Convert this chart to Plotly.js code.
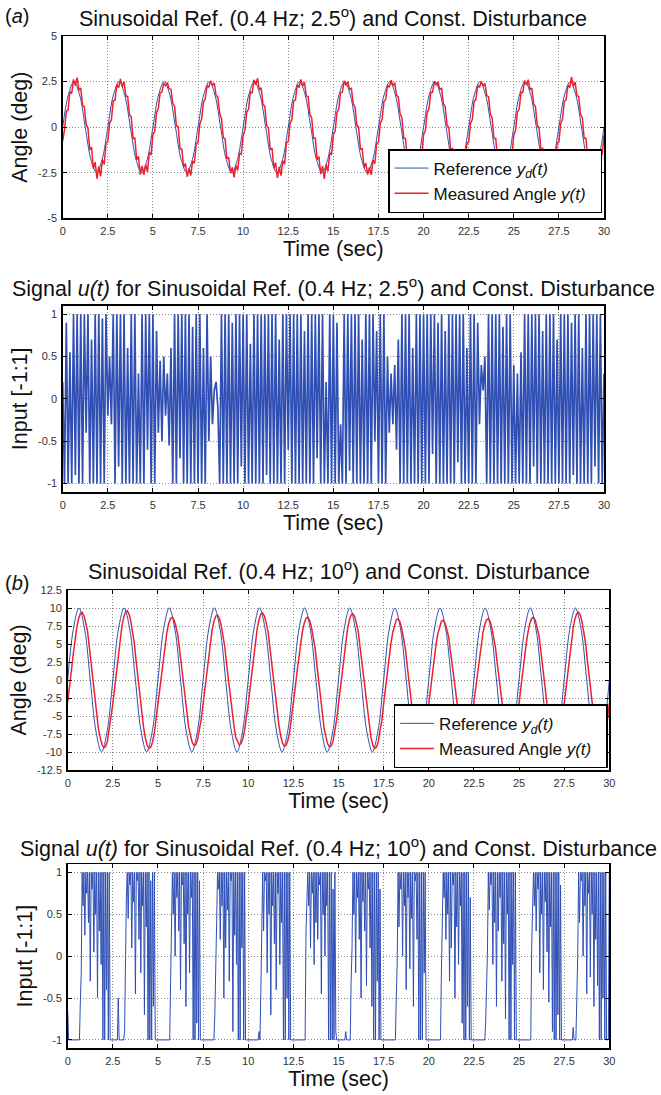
<!DOCTYPE html>
<html><head><meta charset="utf-8">
<script src="https://cdn.plot.ly/plotly-3.0.1.min.js"></script>
<style>html,body{margin:0;padding:0;background:#fff;}#chart{width:661px;height:1095px;}</style>
</head><body><div id="chart"></div>
<script>
// ---------- data ----------
const timeTicks = [0,2.5,5,7.5,10,12.5,15,17.5,20,22.5,25,27.5,30];
const timeTickText = ["0","2.5","5","7.5","10","12.5","15","17.5","20","22.5","25","27.5","30"];
const angleTicksA = [-5,-2.5,0,2.5,5];
const angleTickTextA = ["-5","-2.5","0","2.5","5"];
const inputTicks = [-1,-0.5,0,0.5,1];
const inputTickText = ["-1","-0.5","0","0.5","1"];
const angleTicksB = [-12.5,-10,-7.5,-5,-2.5,0,2.5,5,7.5,10,12.5];
const angleTickTextB = ["-12.5","-10","-7.5","-5","-2.5","0","2.5","5","7.5","10","12.5"];

// sample spacing (s) of each series
const refStep = 0.3125;
const sigStep = 0.1;
const inputStepB = 0.05;

// (a) reference y_d(t), 2.5 deg
const refA = [0,1.77,2.5,1.77,0,-1.77,-2.5,-1.77, 0,1.77,2.5,1.77,0,-1.77,-2.5,-1.77,
 0,1.77,2.5,1.77,0,-1.77,-2.5,-1.77, 0,1.77,2.5,1.77,0,-1.77,-2.5,-1.77,
 0,1.77,2.5,1.77,0,-1.77,-2.5,-1.77, 0,1.77,2.5,1.77,0,-1.77,-2.5,-1.77,
 0,1.77,2.5,1.77,0,-1.77,-2.5,-1.77, 0,1.77,2.5,1.77,0,-1.77,-2.5,-1.77,
 0,1.77,2.5,1.77,0,-1.77,-2.5,-1.77, 0,1.77,2.5,1.77,0,-1.77,-2.5,-1.77,
 0,1.77,2.5,1.77,0,-1.77,-2.5,-1.77, 0,1.77,2.5,1.77,0,-1.77,-2.5,-1.77, 0];

// (a) measured angle y(t)
const measA = [
 -0.75,-0.15,0.85,0.95,1.95,1.85,2.62,2.28,2.72,2.02,2.15,1.22,1.10,0.15,-0.05,-1.25,-1.10,-2.28,-1.92,-2.82,-2.15,-2.70,-1.78,-2.05,-0.88,
 -0.80,0.22,0.40,1.45,1.48,2.35,2.15,2.65,2.22,2.50,1.70,1.70,0.68,0.55,-0.65,-0.58,-1.80,-1.60,-2.60,-2.12,-2.62,-2.05,-2.45,-1.38,-1.52,
 -0.40,-0.22,0.80,1.02,1.88,1.93,2.40,2.25,2.45,2.10,2.08,1.30,1.15,0.08,0.02,-1.20,-1.20,-2.20,-2.00,-2.72,-2.25,-2.65,-1.85,-1.98,-0.92,
 -0.85,0.18,0.45,1.38,1.55,2.28,2.20,2.55,2.28,2.42,1.75,1.64,0.75,0.48,-0.58,-0.65,-1.75,-1.66,-2.52,-2.20,-2.76,-2.10,-2.38,-1.44,-1.48,
 -0.44,-0.18,0.84,0.98,1.93,1.88,2.60,2.32,2.68,2.04,2.16,1.25,1.14,0.10,-0.03,-1.24,-1.15,-2.25,-1.94,-2.78,-2.18,-2.66,-1.83,-2.03,-0.86,
 -0.80,0.21,0.41,1.42,1.50,2.33,2.17,2.62,2.24,2.47,1.71,1.68,0.70,0.52,-0.62,-0.60,-1.78,-1.62,-2.58,-2.14,-2.84,-2.06,-2.42,-1.40,-1.51,
 -0.41,-0.21,0.81,1.01,1.90,1.92,2.55,2.29,2.50,2.07,2.12,1.28,1.11,0.12,0.00,-1.21,-1.18,-2.22,-1.97,-2.60,-2.21,-2.62,-1.80,-2.00,-0.91,
 -0.83,0.19,0.43,1.39,1.52,2.30,2.19,2.58,2.27,2.45,1.74,1.66,0.73,0.50,-0.60,-0.63,-1.76,-1.64,-2.55,-2.17,-2.70,-2.09,-2.40,-1.42,-1.49,
 -0.42,-0.20,0.82,1.00,1.91,1.91,2.52,2.30,2.48,2.06,2.13,1.27,1.12,0.11,-0.01,-1.22,-1.17,-2.23,-1.96,-2.65,-2.20,-2.68,-1.81,-2.01,-0.90,
 -0.82,0.20,0.42,1.40,1.51,2.31,2.18,2.50,2.26,2.40,1.73,1.67,0.72,0.51,-0.61,-0.62,-1.77,-1.63,-2.56,-2.16,-2.72,-2.08,-2.41,-1.41,-1.50,
 -0.43,-0.19,0.83,0.99,1.92,1.90,2.56,2.31,2.60,2.05,2.14,1.26,1.13,0.10,-0.02,-1.23,-1.16,-2.24,-1.95,-2.70,-2.19,-2.67,-1.82,-2.02,-0.89,
 -0.81,0.21,0.43,1.41,1.50,2.32,2.17,2.75,2.25,2.47,1.72,1.68,0.71,0.52,-0.62,-0.61,-1.78,-1.62,-2.57,-2.15,-2.78,-2.07,-2.42,-1.40,-1.51,
 -0.45];

// (a) control signal u(t)
const inputA = [
 0.2,-1,0.9,-1,0.55,-1,1,-0.9,1,-1,
 1,-1,1,-0.4,1,-1,0.7,-1,1,-1,
 1,-1,0.95,-1,1,-0.2,0.5,-0.3,1,-1,
 1,-0.8,1,-1,1,-1,0.6,-1,1,-1,
 1,-1,0.3,-1,1,-1,1,-0.6,1,-1,
 1,-1,0.8,-0.4,0.45,-0.5,0.5,-0.2,0.3,-0.55,
 0.6,-1,1,-1,1,-0.7,1,-1,1,-1,
 1,-1,0.85,-1,1,-1,1,-1,0.6,-1,
 1,-0.5,0.5,-0.3,0.1,0.2,-0.1,-1,1,-1,
 1,-1,1,-1,0.9,-1,1,-1,1,-0.8,
 1,-1,1,-1,0.65,-1,1,-1,1,-1,
 1,-1,1,-0.9,1,-1,1,-1,1,-1,
 0.7,-1,1,-1,1,-0.6,1,-1,1,-1,
 1,-1,1,-1,0.8,-1,1,-1,1,-1,
 1,-0.7,1,-1,1,-1,0.2,-1,1,-1,
 1,-1,0.9,-1,-0.3,-1,1,-1,1,-0.85,
 1,-1,1,-1,1,-1,0.7,-1,1,-1,
 1,-1,1,-0.5,0.8,-1,1,-1,1,-1,
 0.5,-0.4,0.3,-0.3,0.4,-0.6,0.7,-1,1,-1,
 1,-1,1,-1,0.6,-1,1,-1,1,-1,
 1,-1,1,-1,1,-0.65,1,-1,0.9,-1,
 1,-1,0.8,-1,1,-1,1,-1,1,-0.75,
 1,-1,1,-1,0.6,-1,1,-1,1,-1,
 0.9,-0.3,0.4,0.1,0.5,-1,1,-1,1,-1,
 1,-1,1,-1,0.85,-1,1,-1,1,-1,
 0.4,-1,0.3,-1,0.55,-1,1,-1,1,-1,
 1,-0.8,1,-1,1,-1,0.8,-1,1,-1,
 1,-1,1,-1,0.7,-1,1,-1,1,-1,
 1,-1,0.9,-0.9,1,-1,1,-1,0.6,-1,
 1,-1,1,-1,1,-0.8,1,-1,1,-1,
 0.3];

// (b) reference y_d(t), 10 deg
const refB = [0,7.07,10,7.07,0,-7.07,-10,-7.07, 0,7.07,10,7.07,0,-7.07,-10,-7.07,
 0,7.07,10,7.07,0,-7.07,-10,-7.07, 0,7.07,10,7.07,0,-7.07,-10,-7.07,
 0,7.07,10,7.07,0,-7.07,-10,-7.07, 0,7.07,10,7.07,0,-7.07,-10,-7.07,
 0,7.07,10,7.07,0,-7.07,-10,-7.07, 0,7.07,10,7.07,0,-7.07,-10,-7.07,
 0,7.07,10,7.07,0,-7.07,-10,-7.07, 0,7.07,10,7.07,0,-7.07,-10,-7.07,
 0,7.07,10,7.07,0,-7.07,-10,-7.07, 0,7.07,10,7.07,0,-7.07,-10,-7.07, 0];

// (b) measured angle y(t)
const measB = [
 -3.0,-1.13,1.18,3.46,5.54,7.25,8.52,9.25,9.40,8.96,7.96,6.75,4.54,2.34,0,-2.34,-4.54,-6.75,-7.96,-8.96,-9.40,-9.25,-8.52,-6.95,-5.54,
 -3.31,-1.13,1.21,3.54,5.66,7.41,8.70,9.45,9.60,9.15,8.12,6.59,4.94,2.39,0,-2.37,-4.59,-6.52,-8.04,-9.06,-9.50,-9.35,-8.61,-7.33,-5.30,
 -3.31,-1.13,1.09,3.21,5.12,6.71,7.89,8.56,8.70,8.29,7.36,6.27,4.20,2.17,0,-2.27,-4.40,-6.54,-7.70,-8.67,-9.10,-8.96,-8.25,-7.02,-5.36,
 -3.31,-1.13,1.13,3.32,5.30,6.95,8.16,8.86,9.00,8.58,7.62,6.17,4.65,2.24,0,-2.24,-4.35,-6.17,-7.92,-8.58,-9.00,-8.86,-8.16,-6.95,-5.30,
 -3.31,-1.13,1.17,3.43,5.48,7.18,8.43,9.15,9.30,8.86,7.87,6.68,4.49,2.32,0,-2.29,-4.45,-6.31,-7.79,-8.77,-9.20,-9.06,-8.34,-7.10,-5.12,
 -3.31,-1.13,1.09,3.21,5.12,6.71,7.89,8.56,8.70,8.29,7.36,5.97,4.50,2.17,0,-2.32,-4.49,-6.68,-7.87,-8.86,-9.30,-9.15,-8.43,-7.18,-5.48,
 -3.31,-1.13,1.16,3.39,5.42,7.10,8.34,9.06,9.20,8.77,7.79,6.61,4.45,2.29,0,-2.37,-4.59,-6.52,-8.04,-9.06,-9.50,-9.35,-8.61,-7.03,-5.60,
 -3.31,-1.13,1.07,3.13,5.01,6.56,7.70,8.37,8.50,8.10,7.19,5.83,4.41,2.12,0,-2.29,-4.45,-6.61,-7.79,-8.77,-9.20,-9.06,-8.34,-7.10,-5.42,
 -3.31,-1.13,1.04,3.06,4.89,6.41,7.52,8.17,8.30,7.91,7.02,5.99,4.01,2.07,0,-2.24,-4.35,-6.17,-7.62,-8.58,-9.00,-8.86,-8.16,-6.95,-5.00,
 -3.31,-1.13,1.07,3.13,5.01,6.56,7.70,8.37,8.50,8.10,7.19,5.83,4.41,2.12,0,-2.32,-4.49,-6.38,-7.87,-8.86,-9.30,-9.15,-8.43,-7.18,-5.48,
 -3.31,-1.13,1.09,3.21,5.12,6.71,7.89,8.56,8.70,8.29,7.36,6.27,4.20,2.17,0,-2.27,-4.40,-6.54,-7.70,-8.67,-9.10,-8.96,-8.25,-7.02,-5.36,
 -3.31,-1.13,1.18,3.46,5.54,7.25,8.52,9.25,9.40,8.96,7.96,6.45,4.84,2.34,0,-2.32,-4.49,-6.38,-7.87,-8.86,-9.30,-9.15,-8.43,-7.18,-5.48,
 -3.31];

// (b) control signal u(t), sampled every 0.05 s
const inputB = [
 -0.65,-1,-1,-1,-1,-1,-1,-1,-1,-1,-1,-1,-1,-1,-0.55,-0.2,1,0.6,1,0.25,1,0.75,1,0.4,1,
 -0.3,1,0.8,1,0.05,1,0.5,1,-0.5,1,0.3,1,-0.1,1,-1,1,-1,1,-0.4,1,-1,1,-1,-1,-1,
 -1,-1,-1,-1,-1,-1,-0.5,-1,-1,-1,-1,-1,-1,-0.9,0.1,0.7,1,0.45,1,0.85,1,0.1,1,0.65,1,
 -0.45,1,0.9,1,0.2,1,-0.2,1,0.6,1,-0.7,1,0.35,1,-1,1,-1,0.9,-1,1,-0.6,1,-1,-1,-1,
 -1,-1,-1,-1,-1,-1,-1,-1,-1,-1,-1,-1,-1,-1,-0.3,0.2,1,0.5,1,0,1,0.7,1,0.3,1,
 -0.4,1,0.85,1,0.15,1,-0.6,1,0.5,1,-0.2,1,0.7,1,-1,1,-1,1,-0.8,1,-1,0.9,-1,-1,-1,
 -1,-1,-1,-1,-1,-1,-1,-1,-1,-1,-1,-1,-1,-0.7,-0.3,0.4,1,0.8,1,0.2,1,0.6,1,-0.5,1,
 0.1,1,0.55,1,-0.3,1,0.9,1,-0.9,1,0.25,1,-0.1,1,-1,1,-1,1,0.1,1,-1,1,-1,-1,-1,
 -1,-1,-1,-1,-1,-1,-1,-1,-1,-1,-1,-1,-0.9,-1,-0.4,0.3,1,0.3,1,0.9,1,-0.2,1,0.5,1,
 -0.7,1,0.6,1,0.15,1,-0.4,1,0.75,1,-0.1,1,0.4,1,-1,1,-1,1,-0.5,1,-1,1,-1,-1,-1,
 -1,-1,-1,-1,-1,-1,-1,-1,-1,-1,-1,-1,-1,-1,0.3,0.6,1,0.6,1,0.1,1,0.75,1,-0.1,1,
 0.4,1,0.2,1,0.85,1,-0.45,1,0.5,1,0,1,0.6,1,-1,1,-1,1,-1,0.8,-1,1,-0.9,-1,-1,
 -1,-1,-1,-1,-1,-1,-1,-1,-0.9,-1,-1,-1,-1,-1,-0.3,0.1,1,0.5,1,-0.2,1,0.7,1,0.2,1,
 -0.5,1,0.65,1,0.3,1,-0.35,1,0.8,1,0.1,1,-0.6,1,-1,1,-1,1,-0.3,1,-1,0.8,-1,-1,-1,
 -1,-1,-1,-1,-1,-1,-1,-1,-1,-1,-1,-1,-1,-1,-0.5,-0.1,1,0.35,1,0.8,1,0,1,0.6,1,
 -0.4,1,0.7,1,-0.15,1,0.45,1,-0.6,1,0.9,1,0.2,1,-1,1,-1,1,-1,1,-0.2,1,-1,-1,-1,
 -1,-1,-1,-1,-1,-1,-1,-1,-1,-1,-1,-1,-1,-1,-0.2,0.3,1,0.7,1,0.2,1,0.5,1,-0.3,1,
 0.1,1,0.85,1,-0.5,1,0.35,1,-0.1,1,0.6,1,-0.8,1,-1,1,-1,1,-0.6,1,-1,0.7,-1,-1,-1,
 -1,-1,-1,-1,-1,-1,-1,-1,-1,-1,-1,-1,-1,-0.8,-0.45,0.05,1,0.55,1,0.85,1,-0.1,1,0.4,1,
 -0.6,1,0.3,1,0.7,1,-0.3,1,0.15,1,-0.75,1,0.5,1,-1,1,-1,1,-0.1,1,-1,1,-1,-1,-1,
 -1,-1,-1,-1,-1,-1,-1,-1,-1,-1,-1,-1,-1,-1,0.1,0.5,1,0.6,1,0.3,1,0.8,1,-0.2,1,
 0.5,1,-0.4,1,0.65,1,0.05,1,-0.55,1,0.35,1,-0.9,1,-1,1,-1,1,-0.7,1,-1,0.85,-1,-1,-1,
 -1,-1,-1,-1,-1,-1,-1,-1,-1,-1,-0.85,-1,-1,-1,-0.5,0,1,0.4,1,0.9,1,0,1,0.6,1,
 -0.45,1,0.75,1,-0.25,1,0.5,1,-0.6,1,0.2,1,-0.35,1,-1,1,-1,1,-0.5,1,-1,1,-1,-1,-1,
 1];

// ---------- styling ----------
const BLUE = '#2f4fb5';
const RED = '#f0202a';
const FONT = 'Liberation Sans, Arial, Helvetica, sans-serif';
const GRID = {showgrid:true, gridcolor:'#8c8c8c', griddash:'1px,2px', gridwidth:1, zeroline:false};

function xAx(domain, anchor){
  return Object.assign({domain:domain, anchor:anchor, range:[0,30], tickmode:'array', tickvals:timeTicks, ticktext:timeTickText,
    ticks:'inside', ticklen:4, tickwidth:1, tickcolor:'#000', showline:true, linecolor:'#000', linewidth:1.5,
    mirror:'ticks', tickfont:{size:11, color:'#333'}, ticklabelstandoff:2, automargin:false, fixedrange:true,
    title:{text:'Time (sec)', font:{size:21.5, color:'#111'}, standoff:2}}, GRID);
}
function yAx(domain, anchor, range, vals, text, title){
  return Object.assign({domain:domain, anchor:anchor, range:range, tickmode:'array', tickvals:vals, ticktext:text,
    ticks:'inside', ticklen:4, tickwidth:1, tickcolor:'#000', showline:true, linecolor:'#000', linewidth:1.5,
    mirror:'ticks', tickfont:{size:11, color:'#333'}, ticklabelstandoff:2, automargin:false, fixedrange:true,
    title:{text:title, font:{size:21.5, color:'#111'}, standoff:4}}, GRID);
}

const W = 661, H = 1095;
const xdA = [62.7/W, 604/W], xdB = [67.7/W, 609.3/W];
const nameRef = 'Reference <i>y</i><sub><i>d</i></sub><i>(t)</i>&nbsp;&nbsp;';
const nameMeas = 'Measured Angle <i>y(t)</i>&nbsp;&nbsp;';

const traces = [
  {type:'scatter', mode:'lines', x0:0, dx:refStep, y:refA, xaxis:'x', yaxis:'y',
   line:{color:BLUE, width:1, shape:'spline'}, name:nameRef, legend:'legend', legendgroup:'a1'},
  {type:'scatter', mode:'lines', x0:0, dx:sigStep, y:measA, xaxis:'x', yaxis:'y',
   line:{color:RED, width:1.5}, name:nameMeas, legend:'legend', legendgroup:'a2'},
  {type:'scatter', mode:'lines', x0:0, dx:sigStep, y:inputA, xaxis:'x2', yaxis:'y2',
   line:{color:BLUE, width:1.7}, showlegend:false},
  {type:'scatter', mode:'lines', x0:0, dx:refStep, y:refB, xaxis:'x3', yaxis:'y3',
   line:{color:BLUE, width:1, shape:'spline'}, name:nameRef, legend:'legend2', legendgroup:'b1'},
  {type:'scatter', mode:'lines', x0:0, dx:sigStep, y:measB, xaxis:'x3', yaxis:'y3',
   line:{color:RED, width:1.5}, name:nameMeas, legend:'legend2', legendgroup:'b2'},
  {type:'scatter', mode:'lines', x0:0, dx:inputStepB, y:inputB, xaxis:'x4', yaxis:'y4',
   line:{color:BLUE, width:1}, showlegend:false}
];

function ann(text, xpx, ypx, size){
  return {text:text, xref:'paper', yref:'paper', x:xpx/W, y:1-ypx/H, xanchor:'center', yanchor:'middle',
    showarrow:false, font:{size:size, color:'#111', family:FONT}};
}

const legendStyle = {bgcolor:'#fff', bordercolor:'#000', borderwidth:1.5, font:{size:17, color:'#111'},
  xanchor:'right', yanchor:'bottom', traceorder:'grouped', tracegroupgap:0, itemwidth:34};

const layout = {
  width:W, height:H, margin:{l:0, r:0, t:0, b:0}, paper_bgcolor:'#fff', plot_bgcolor:'#fff',
  font:{family:FONT, color:'#111'}, showlegend:true,
  xaxis: xAx(xdA, 'y'),
  yaxis: yAx([1-218.3/H, 1-36/H], 'x', [-5,5], angleTicksA, angleTickTextA, 'Angle (deg)'),
  xaxis2: xAx(xdA, 'y2'),
  yaxis2: yAx([1-492/H, 1-305.7/H], 'x2', [-1.1,1.1], inputTicks, inputTickText, 'Input [-1:1]'),
  xaxis3: xAx(xdB, 'y3'),
  yaxis3: yAx([1-770/H, 1-590/H], 'x3', [-12.5,12.5], angleTicksB, angleTickTextB, 'Angle (deg)'),
  xaxis4: xAx(xdB, 'y4'),
  yaxis4: yAx([1-1048.3/H, 1-864/H], 'x4', [-1.1,1.1], inputTicks, inputTickText, 'Input [-1:1]'),
  legend: Object.assign({}, legendStyle, {x:602/W, y:1-213/H}),
  legend2: Object.assign({}, legendStyle, {x:607.6/W, y:1-768.3/H}),
  annotations:[
    ann('Sinusoidal Ref. (0.4 Hz; 2.5<sup>o</sup>) and Const. Disturbance', 333.4, 17, 21.5),
    ann('Signal <i>u(t)</i> for Sinusoidal Ref. (0.4 Hz; 2.5<sup>o</sup>) and Const. Disturbance', 333.4, 287, 21.5),
    ann('Sinusoidal Ref. (0.4 Hz; 10<sup>o</sup>) and Const. Disturbance', 338.5, 570, 21.5),
    ann('Signal <i>u(t)</i> for Sinusoidal Ref. (0.4 Hz; 10<sup>o</sup>) and Const. Disturbance', 338.5, 847, 21.5),
    ann('(<i>a</i>)', 17, 16, 20),
    ann('(<i>b</i>)', 17, 583, 20)
  ]
};

Plotly.newPlot('chart', traces, layout, {staticPlot:true, displayModeBar:false});
</script>
</body></html>
